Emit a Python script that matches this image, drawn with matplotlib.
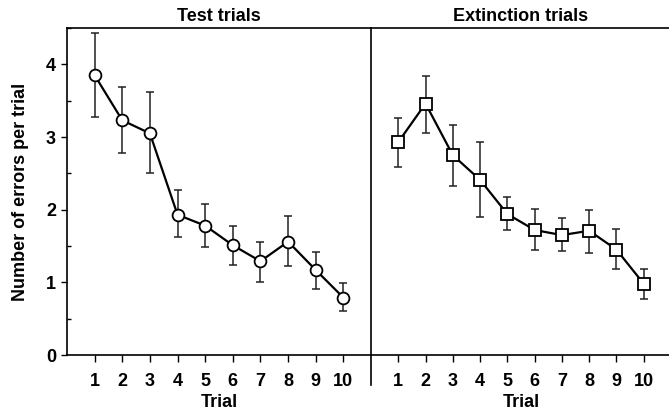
import matplotlib
matplotlib.use("Agg")
import matplotlib.pyplot as plt
from matplotlib.lines import Line2D
from matplotlib.ticker import MultipleLocator

plt.rcParams['font.family'] = ['Liberation Sans', 'DejaVu Sans']
plt.rcParams['font.weight'] = 'bold'

trials = [1, 2, 3, 4, 5, 6, 7, 8, 9, 10]

# test trials (mean, lower/upper error bar ends)
test_mean = [3.85, 3.23, 3.05, 1.93, 1.78, 1.51, 1.29, 1.56, 1.17, 0.79]
test_low = [3.27, 2.78, 2.50, 1.63, 1.49, 1.24, 1.00, 1.22, 0.91, 0.61]
test_high = [4.43, 3.69, 3.62, 2.27, 2.08, 1.78, 1.56, 1.91, 1.42, 0.99]

# extinction trials
ext_mean = [2.93, 3.46, 2.75, 2.41, 1.94, 1.72, 1.65, 1.71, 1.45, 0.98]
ext_low = [2.59, 3.06, 2.33, 1.90, 1.72, 1.45, 1.43, 1.40, 1.19, 0.77]
ext_high = [3.26, 3.84, 3.16, 2.93, 2.17, 2.01, 1.88, 1.99, 1.73, 1.19]

W, H = 669, 413
FS = 13
fig = plt.figure(figsize=(W/100, H/100), dpi=100)

ax1 = fig.add_axes([67/W, 1-355/H, 304/W, 327/H])
ax2 = fig.add_axes([371/W, 1-355/H, 300/W, 327/H])

def draw(ax, mean, low, high, marker, title):
    yerr = [[m - l for m, l in zip(mean, low)], [h - m for m, h in zip(mean, high)]]
    ax.errorbar(trials, mean, yerr=yerr, fmt='none', ecolor='#222222', elinewidth=1.1,
                capsize=2.6, capthick=1.1, zorder=2)
    ax.plot(trials, mean, color='black', lw=1.6, marker=marker, markersize=8.5,
            markerfacecolor='white', markeredgecolor='black', markeredgewidth=1.3, zorder=3)
    ax.set_xlim(0, 11)
    ax.set_ylim(0, 4.5)
    ax.set_xticks(trials)
    ax.set_xticklabels([str(t) for t in trials], fontsize=FS, fontweight='bold')
    ax.tick_params(axis='x', direction='out', length=5, width=1, pad=8)
    ax.set_xlabel('Trial', fontsize=FS, fontweight='bold', labelpad=3)
    ax.set_title(title, fontsize=FS, fontweight='bold', pad=5)
    ax.spines['right'].set_visible(False)
    for s in ['top', 'bottom', 'left']:
        ax.spines[s].set_linewidth(1.2)

draw(ax1, test_mean, test_low, test_high, 'o', 'Test trials')
draw(ax2, ext_mean, ext_low, ext_high, 's', 'Extinction trials')

ax1.set_yticks([0, 1, 2, 3, 4])
ax1.set_yticklabels(['0', '1', '2', '3', '4'], fontsize=FS, fontweight='bold')
ax1.yaxis.set_minor_locator(MultipleLocator(0.5))
ax1.tick_params(axis='y', which='major', direction='out', length=4, width=1, pad=4)
ax1.tick_params(axis='y', which='minor', direction='in', length=3, width=1)
ax1.set_ylabel('Number of errors per trial', fontsize=FS, fontweight='bold', labelpad=12)

ax2.spines['left'].set_visible(False)
ax2.set_yticks([])

# divider between the panels, running below the x axis
fig.add_artist(Line2D([371/W, 371/W], [1-28/H, 1-385/H], color='black', lw=1.2))

fig.savefig('out.png', dpi=100)
